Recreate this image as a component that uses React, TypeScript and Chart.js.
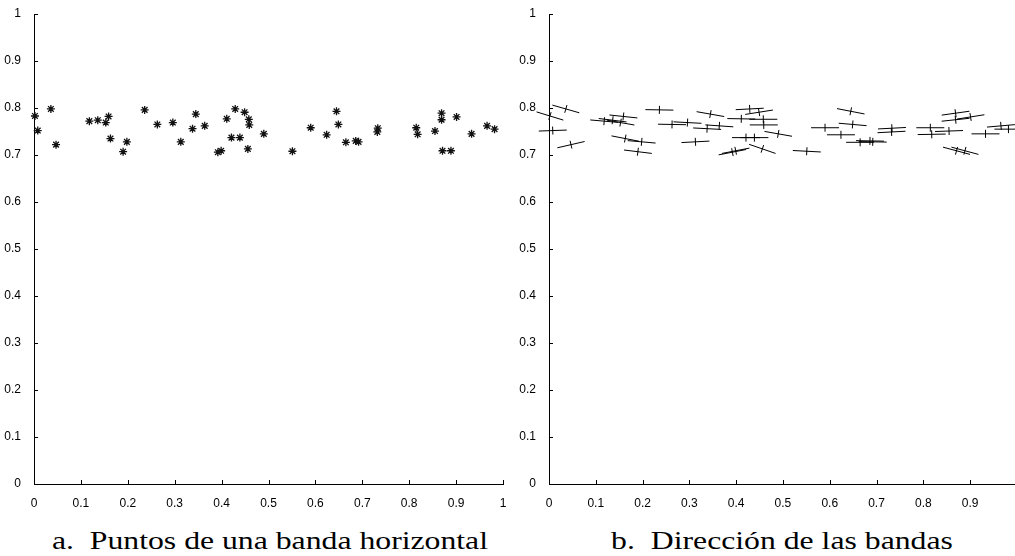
import React, { useEffect, useRef } from "react";
import { Chart, registerables } from "chart.js";

Chart.register(...registerables);

// Band points (same points in both panels)
const xs = [
  0.002, 0.008, 0.036, 0.047, 0.118, 0.136, 0.153, 0.159, 0.163, 0.19,
  0.198, 0.236, 0.263, 0.296, 0.313, 0.338, 0.345, 0.364, 0.392, 0.399,
  0.411, 0.421, 0.429, 0.439, 0.449, 0.458, 0.459, 0.456, 0.49, 0.551,
  0.59, 0.624, 0.645, 0.649, 0.665, 0.686, 0.692, 0.733, 0.732, 0.815,
  0.818, 0.855, 0.869, 0.869, 0.901, 0.871, 0.889, 0.933, 0.966, 0.982,
];
const ys = [
  0.783, 0.752, 0.798, 0.722, 0.772, 0.774, 0.769, 0.782, 0.735, 0.707,
  0.728, 0.796, 0.765, 0.769, 0.728, 0.756, 0.787, 0.762, 0.706, 0.709,
  0.777, 0.737, 0.798, 0.737, 0.791, 0.776, 0.764, 0.713, 0.745, 0.708,
  0.758, 0.743, 0.793, 0.765, 0.727, 0.73, 0.728, 0.757, 0.749, 0.758,
  0.744, 0.751, 0.789, 0.775, 0.781, 0.709, 0.709, 0.745, 0.762, 0.755,
];
// Band direction angles in degrees (clockwise on screen)
const angles = [
  17, -2, 16, -13, 5, 7, 10, 6, 11, 7,
  5, 1, 1, 3, -3, 3, 10, 4, -11, -11,
  1, 0, -3, 0, -9, 0, 0, 19, 10, 3,
  0, 0, 11, 5, 0, 1, 1, -3, -3, 0,
  -1, -2, -8, -6, -9, 15, 15, 0, -5, 0,
];

const yTicks = [0, 0.1, 0.2, 0.3, 0.4, 0.5, 0.6, 0.7, 0.8, 0.9, 1];
const yTickLabels = ["0", "0.1", "0.2", "0.3", "0.4", "0.5", "0.6", "0.7", "0.8", "0.9", "1"];
const xTicksA = [0, 0.1, 0.2, 0.3, 0.4, 0.5, 0.6, 0.7, 0.8, 0.9, 1];
const xTickLabelsA = ["0", "0.1", "0.2", "0.3", "0.4", "0.5", "0.6", "0.7", "0.8", "0.9", "1"];
const xTicksB = [0, 0.1, 0.2, 0.3, 0.4, 0.5, 0.6, 0.7, 0.8, 0.9];
const xTickLabelsB = ["0", "0.1", "0.2", "0.3", "0.4", "0.5", "0.6", "0.7", "0.8", "0.9"];

const captionA = "a.  Puntos de una banda horizontal";
const captionB = "b.  Dirección de las bandas";

const points = xs.map((x, i) => ({ x, y: ys[i] }));

const innerTicks = {
  id: "innerTicks",
  afterDraw(chart: any) {
    const ctx = chart.ctx;
    const xs = chart.scales.x;
    const ysc = chart.scales.y;
    const area = chart.chartArea;
    ctx.save();
    ctx.strokeStyle = "#000";
    ctx.lineWidth = 1;
    ctx.beginPath();
    xs.ticks.forEach((t: any) => {
      const px = Math.round(xs.getPixelForValue(t.value)) + 0.5;
      ctx.moveTo(px, area.bottom);
      ctx.lineTo(px, area.bottom - 4);
    });
    ysc.ticks.forEach((t: any) => {
      const py = Math.round(ysc.getPixelForValue(t.value)) + 0.5;
      ctx.moveTo(area.left, py);
      ctx.lineTo(area.left + 4, py);
    });
    ctx.stroke();
    ctx.restore();
  },
};

function makeOptions(xTicks: number[], xLabels: string[], xMax: number, padRight: number) {
  const font = { family: "'Liberation Sans', Arial, sans-serif", size: 12 };
  return {
    animation: false,
    responsive: false,
    maintainAspectRatio: false,
    layout: { padding: { top: 14, right: padRight, left: 0, bottom: 0 }, autoPadding: false },
    plugins: { legend: { display: false }, tooltip: { enabled: false }, title: { display: false } },
    scales: {
      x: {
        type: "linear",
        min: 0,
        max: xMax,
        grid: { display: false },
        border: { display: true, color: "#000", width: 1 },
        afterBuildTicks: (s: any) => {
          s.ticks = xTicks.map((v) => ({ value: v }));
        },
        afterFit: (s: any) => {
          s.height = 36;
        },
        ticks: {
          color: "#000",
          font,
          padding: 4,
          maxRotation: 0,
          autoSkip: false,
          callback: (_v: any, i: number) => xLabels[i],
        },
      },
      y: {
        type: "linear",
        min: 0,
        max: 1,
        grid: { display: false },
        border: { display: true, color: "#000", width: 1 },
        afterBuildTicks: (s: any) => {
          s.ticks = yTicks.map((v) => ({ value: v }));
        },
        afterFit: (s: any) => {
          s.width = 34;
        },
        ticks: {
          color: "#000",
          font,
          padding: 5,
          autoSkip: false,
          callback: (_v: any, i: number) => yTickLabels[i],
        },
      },
    },
  } as any;
}

export default function App() {
  const refA = useRef<HTMLCanvasElement>(null);
  const refB = useRef<HTMLCanvasElement>(null);

  useEffect(() => {
    const a = new Chart(refA.current!, {
      type: "scatter",
      data: {
        datasets: [
          {
            data: points,
            pointStyle: "star",
            pointRadius: 4,
            borderColor: "#111",
            backgroundColor: "#111",
            borderWidth: 1.3,
            clip: false,
          } as any,
        ],
      },
      options: makeOptions(xTicksA, xTickLabelsA, 1, 12),
      plugins: [innerTicks],
    });
    const b = new Chart(refB.current!, {
      type: "scatter",
      data: {
        datasets: [
          {
            data: points,
            pointStyle: "line",
            pointRadius: 14,
            rotation: angles,
            borderColor: "#000",
            borderWidth: 1,
            clip: false,
          } as any,
          {
            data: points,
            pointStyle: "line",
            pointRadius: 4,
            rotation: angles.map((r) => r + 90),
            borderColor: "#000",
            borderWidth: 1,
            clip: false,
          } as any,
        ],
      },
      options: makeOptions(xTicksB, xTickLabelsB, 0.996, 0),
      plugins: [innerTicks],
    });
    return () => {
      a.destroy();
      b.destroy();
    };
  }, []);

  const capStyle: React.CSSProperties = {
    position: "absolute",
    top: 526,
    fontFamily: "'Liberation Serif', 'Times New Roman', serif",
    fontSize: 26,
    whiteSpace: "pre",
    textAlign: "center",
    color: "#000",
    lineHeight: "30px",
    transform: "scaleX(1.22)",
    transformOrigin: "center",
  };

  return (
    <div style={{ position: "absolute", left: 0, top: 0, width: 1015, height: 556, background: "#fff", overflow: "hidden" }}>
      <canvas ref={refA} width={515} height={520} style={{ position: "absolute", left: 0, top: 0 }} />
      <canvas ref={refB} width={500} height={520} style={{ position: "absolute", left: 515, top: 0 }} />
      <div style={{ ...capStyle, left: 20, width: 500 }}>{captionA}</div>
      <div style={{ ...capStyle, left: 532, width: 500 }}>{captionB}</div>
    </div>
  );
}
